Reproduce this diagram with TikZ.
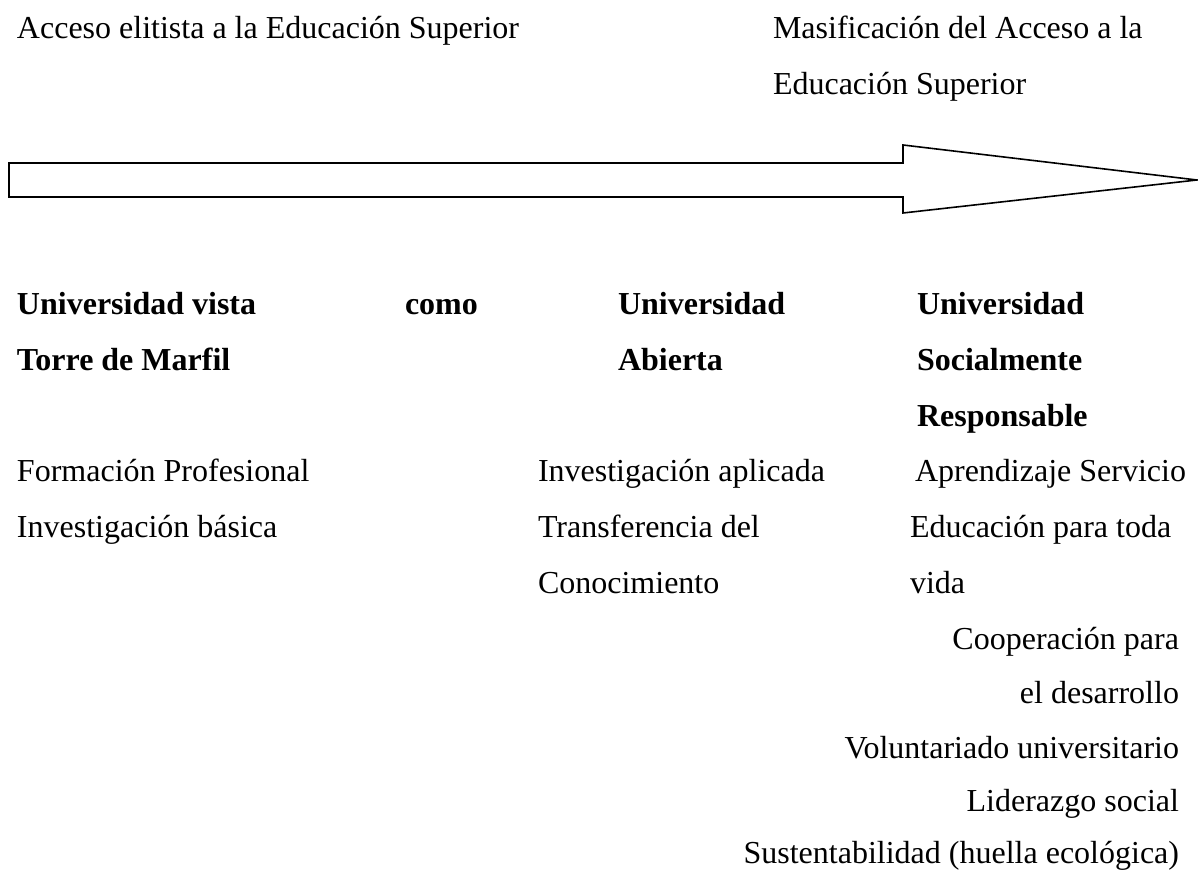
\documentclass[tikz,border=0pt]{standalone}
\usepackage{fontspec}
\setmainfont{Liberation Serif}
\usetikzlibrary{positioning}

\begin{document}
\begin{tikzpicture}[
    x=0.375pt, y=-0.375pt,
    every node/.style={inner sep=0pt, outer sep=0pt},
    txt/.style={anchor=base west, font=\fontsize{12}{14}\selectfont},
    rtxt/.style={anchor=base east, font=\fontsize{12}{14}\selectfont},
    head/.style={anchor=base west, font=\fontsize{12}{14}\selectfont\bfseries},
    bigarrow/.style={draw, line width=0.6pt, line join=miter}
]
    \useasboundingbox (0,0) rectangle (1198,871);

    \node[txt] (elite) at (17,39) {Acceso elitista a la Educación Superior};
    \node[txt] (masa) at (773,39) {Masificación del Acceso a la};
    \node[txt] (masa2) at (773,95) {Educación Superior};

    \draw[bigarrow] (9,163) -- (903,163) -- (903,145) -- (1197,180)
        -- (903,213) -- (903,197) -- (9,197) -- cycle;

    \node[head] (torre1) at (17,315) {Universidad vista};
    \node[head] (como) at (405,315) {como};
    \node[head] (torre2) at (17,370.7) {Torre de Marfil};
    \node[head] (abierta1) at (618,315) {Universidad};
    \node[head] (abierta2) at (618,370.7) {Abierta};
    \node[head] (rsu1) at (917,315) {Universidad};
    \node[head] (rsu2) at (917,370.7) {Socialmente};
    \node[head] (rsu3) at (917,426.4) {Responsable};

    \node[txt] (formacion) at (17,482) {Formación Profesional};
    \node[txt] (basica) at (17,537.8) {Investigación básica};

    \node[txt] (aplicada) at (538,482) {Investigación aplicada};
    \node[txt] (transf) at (538,537.8) {Transferencia del};
    \node[txt] (conoc) at (538,593.5) {Conocimiento};

    \node[txt] (apserv) at (915,482) {Aprendizaje Servicio};
    \node[txt] (edu1) at (910,537.8) {Educación para toda};
    \node[txt] (edu2) at (910,593.5) {vida};
    \node[rtxt] (coop1) at (1179,649.2) {Cooperación para};
    \node[rtxt] (coop2) at (1179,704) {el desarrollo};
    \node[rtxt] (volunt) at (1179,758.5) {Voluntariado universitario};
    \node[rtxt] (lider) at (1179,811.5) {Liderazgo social};
    \node[rtxt] (sust) at (1179,863.5) {Sustentabilidad (huella ecológica)};

\end{tikzpicture}
\end{document}
